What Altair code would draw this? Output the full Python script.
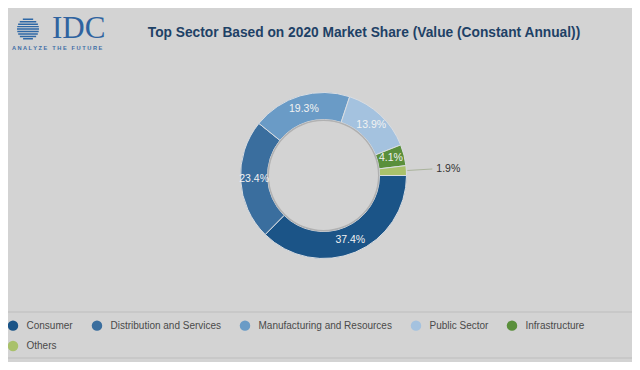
import math
import altair as alt
import pandas as pd

# ---- data ----
sectors = ["Consumer", "Distribution and Services", "Manufacturing and Resources",
           "Public Sector", "Infrastructure", "Others"]
shares = [37.4, 23.4, 19.3, 13.9, 4.1, 1.9]
colors = ["#1b5487", "#3a6e9e", "#6a9bc6", "#a4c2df", "#5a8f3b", "#a9c16b"]
title_text = "Top Sector Based on 2020 Market Share (Value (Constant Annual))"

df = pd.DataFrame({"sector": sectors, "share": shares, "idx": list(range(len(sectors)))})

W, H = 624, 354
CX, CY = 315.5, 167.5
R_IN, R_OUT = 56, 83

theta_scale = alt.Scale(range=[math.pi / 2, math.pi / 2 + 2 * math.pi])

base = alt.Chart(df).transform_calculate(
    inlabel="datum.share > 3 ? format(datum.share, '.1f') + '%' : ''",
    outlabel="datum.share <= 3 ? format(datum.share, '.1f') + '%' : ''",
)

arcs = base.mark_arc(innerRadius=R_IN, outerRadius=R_OUT, stroke="#d9dde2",
                     strokeWidth=1).encode(
    theta=alt.Theta("share:Q", stack=True, scale=theta_scale),
    color=alt.Color("sector:N", sort=sectors,
                    scale=alt.Scale(domain=sectors, range=colors),
                    legend=alt.Legend(title=None, orient="none", legendX=-0.5, legendY=312,
                                      direction="horizontal", columns=5,
                                      symbolType="circle", symbolSize=110,
                                      symbolStrokeWidth=0, labelFont="Liberation Sans",
                                      labelFontSize=10, labelColor="#4a4a4a",
                                      labelOffset=8, columnPadding=18, rowPadding=9.5,
                                      padding=0)),
    order=alt.Order("idx:Q"),
    x=alt.value(CX), y=alt.value(CY),
)

inner_ring = alt.Chart(alt.Data(values=[{"v": 1}])).mark_arc(
    innerRadius=R_IN - 1.5, outerRadius=R_IN, color="#9a9a9a", opacity=0.6
).encode(theta=alt.value(2 * math.pi), x=alt.value(CX), y=alt.value(CY))

in_labels = base.mark_text(radius=(R_IN + R_OUT) / 2, font="Liberation Sans",
                           fontSize=10.5, color="#f2f2f2").encode(
    theta=alt.Theta("share:Q", stack=True, scale=theta_scale),
    order=alt.Order("idx:Q"),
    text="inlabel:N",
    x=alt.value(CX), y=alt.value(CY),
)

out_labels = base.mark_text(radius=113, align="left", font="Liberation Sans",
                            fontSize=10.5, color="#333333").encode(
    theta=alt.Theta("share:Q", stack=True, scale=theta_scale),
    order=alt.Order("idx:Q"),
    text="outlabel:N",
    x=alt.value(CX), y=alt.value(CY),
)

leader = alt.Chart(df).transform_joinaggregate(
    total="sum(share)"
).transform_window(
    cum="sum(share)", sort=[alt.SortField("idx")]
).transform_calculate(
    mid="(datum.cum - datum.share / 2) / datum.total * 2 * PI + PI / 2",
).transform_calculate(
    lx1=f"{CX} + {R_OUT + 1} * sin(datum.mid)",
    ly1=f"{CY} - {R_OUT + 1} * cos(datum.mid)",
    lx2=f"{CX} + 109 * sin(datum.mid)",
    ly2=f"{CY} - 109 * cos(datum.mid)",
).transform_filter("datum.share <= 3").mark_rule(color="#aab39c", strokeWidth=1).encode(
    x=alt.X("lx1:Q", scale=None), x2="lx2:Q",
    y=alt.Y("ly1:Q", scale=None), y2="ly2:Q",
)

one = alt.Data(values=[{"v": 1}])

sep_top = alt.Chart(one).mark_rule(color="#bdbdbd", strokeWidth=1).encode(
    x=alt.value(0), x2=alt.value(W), y=alt.value(304))
sep_bot = alt.Chart(one).mark_rule(color="#bdbdbd", strokeWidth=1).encode(
    x=alt.value(0), x2=alt.value(W), y=alt.value(350))

title = alt.Chart(one).mark_text(text=title_text, font="Liberation Sans", fontSize=13.75,
                                 fontWeight="bold", color="#1e4166", align="center",
                                 baseline="alphabetic").encode(
    x=alt.value(356), y=alt.value(29))

# ---- logo ----
n = 9
parts = []
for i in range(n):
    y0 = -1 + i * 2 / n + 0.05
    y1 = y0 + 2 / n * 0.6
    ym = (y0 + y1) / 2
    w = math.sqrt(max(0.0, 1 - ym * ym))
    parts.append(f"M{-w:.3f},{y0:.3f}L{w:.3f},{y0:.3f}L{w:.3f},{y1:.3f}L{-w:.3f},{y1:.3f}Z")
globe_path = "".join(parts)
globe = alt.Chart(one).mark_point(shape=globe_path, filled=True, size=484,
                                  color="#2f68a6", opacity=1).encode(
    x=alt.value(20), y=alt.value(21))
idc = alt.Chart(one).mark_text(text="IDC", font="Liberation Serif", fontSize=31,
                               color="#2f63a0", align="left",
                               baseline="alphabetic").encode(
    x=alt.value(44), y=alt.value(30))
gap = "\u00a0\u00a0\u00a0"
tagline = alt.Chart(one).mark_text(text="A N A L Y Z E" + gap + "T H E" + gap + "F U T U R E",
                                   font="Liberation Sans", fontSize=5.7, fontWeight="bold",
                                   color="#3d6ea6", align="left",
                                   baseline="middle").encode(
    x=alt.value(4), y=alt.value(40))

chart = alt.layer(
    sep_top, sep_bot, title, globe, idc, tagline,
    arcs, inner_ring, in_labels, leader, out_labels,
).properties(
    width=W, height=H,
    autosize=alt.AutoSizeParams(type="none"),
    padding=0, background="#d3d3d3",
).configure_view(stroke=None)

chart.save("out.html", embed_options={"renderer": "svg", "actions": False})
